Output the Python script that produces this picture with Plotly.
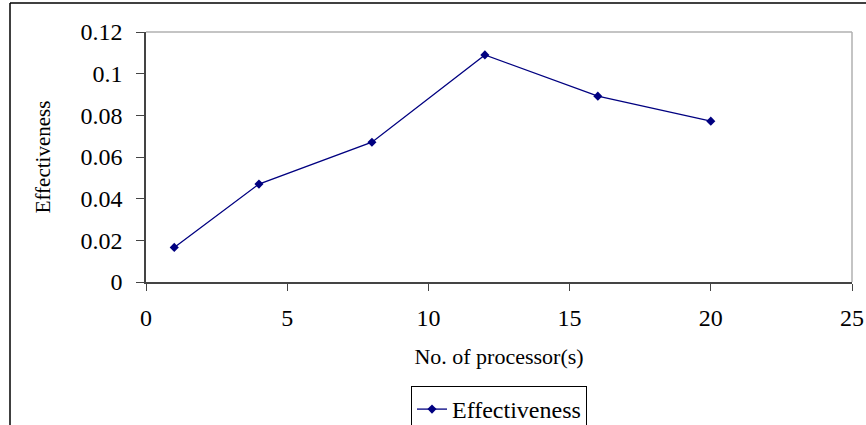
import plotly.graph_objects as go

processors = [1, 4, 8, 12, 16, 20]
effectiveness = [0.0166, 0.047, 0.0671, 0.109, 0.0892, 0.0772]
series_name = "Effectiveness"
x_title = "No. of processor(s)"
y_title = "Effectiveness"

W, H = 866, 425
ML, MR, MT, MB = 146, 14, 32, 143
PW, PH = W - ML - MR, H - MT - MB

def px_x(p):
    return (p - ML) / PW

def px_y(p):
    return (H - MB - p) / PH

fig = go.Figure()
fig.add_trace(go.Scatter(
    x=processors, y=effectiveness, name=series_name,
    mode="lines+markers",
    line=dict(color="#000080", width=1.3),
    marker=dict(symbol="diamond", size=7, color="#000080"),
    showlegend=True,
))

font = "Liberation Serif, Times New Roman, serif"
fig.update_layout(
    width=W, height=H,
    margin=dict(l=ML, r=MR, t=MT, b=MB, pad=0, autoexpand=False),
    paper_bgcolor="white", plot_bgcolor="white",
    font=dict(family=font, color="black", size=22),
    showlegend=True,
    legend=dict(
        xref="container", yref="container",
        x=(499) / W, xanchor="center", y=(H - 386) / H, yanchor="top",
        bordercolor="black", borderwidth=1, bgcolor="white",
        font=dict(size=24, family=font), itemwidth=30,
        tracegroupgap=0,
    ),
    xaxis=dict(
        range=[0, 25], tickvals=[0, 5, 10, 15, 20, 25],
        showgrid=False, zeroline=False,
        showline=True, linecolor="#444", linewidth=1.5,
        ticks="outside", ticklen=7, tickcolor="#444", tickwidth=1,
        ticklabelstandoff=6,
        tickfont=dict(size=24, family=font),
        title=dict(text=x_title, font=dict(size=22, family=font), standoff=19),
        automargin=False,
    ),
    yaxis=dict(
        range=[0, 0.12], tickvals=[0, 0.02, 0.04, 0.06, 0.08, 0.1, 0.12],
        ticktext=["0", "0.02", "0.04", "0.06", "0.08", "0.1", "0.12"],
        showgrid=False, zeroline=False,
        showline=True, linecolor="#444", linewidth=1.5,
        ticks="outside", ticklen=8, tickcolor="#444", tickwidth=1,
        ticklabelstandoff=9,
        tickfont=dict(size=24, family=font),
        title=dict(text=y_title, font=dict(size=21, family=font), standoff=24),
        automargin=False,
    ),
    shapes=[
        dict(type="line", xref="paper", yref="paper", x0=0, x1=1, y0=1, y1=1,
             line=dict(color="#b0b0b0", width=1.5)),
        dict(type="line", xref="paper", yref="paper", x0=1, x1=1, y0=0, y1=1,
             line=dict(color="#b0b0b0", width=1.5)),
        dict(type="line", xref="paper", yref="paper",
             x0=px_x(10), x1=px_x(866), y0=px_y(3), y1=px_y(3),
             line=dict(color="black", width=1.5)),
        dict(type="line", xref="paper", yref="paper",
             x0=px_x(10), x1=px_x(10), y0=px_y(3), y1=px_y(425),
             line=dict(color="black", width=1.5)),
    ],
)

fig.write_html("out.html")
